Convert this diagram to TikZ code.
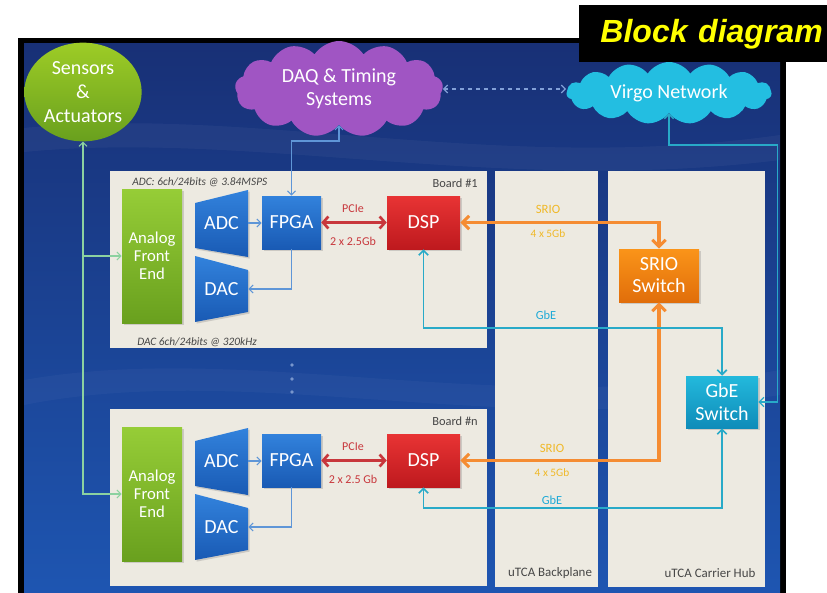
\documentclass[tikz,border=0pt]{standalone}
\usepackage{fontspec}
\setmainfont{Carlito}
\newfontfamily\titlefont{Liberation Sans}
\usetikzlibrary{arrows.meta,shapes.symbols,shapes.geometric,shadows}

\definecolor{navy}{RGB}{24,48,118}
\definecolor{midblue}{RGB}{40,112,202}
\definecolor{botblue}{RGB}{30,86,178}
\definecolor{boardbg}{RGB}{237,234,225}
\definecolor{afegreenL}{RGB}{150,205,55}
\definecolor{afegreenD}{RGB}{105,160,30}
\definecolor{chipblue}{RGB}{50,130,220}
\definecolor{chipblueD}{RGB}{25,90,180}
\definecolor{dspred}{RGB}{232,52,52}
\definecolor{dspredD}{RGB}{190,25,30}
\definecolor{srioorange}{RGB}{250,148,25}
\definecolor{srioorangeD}{RGB}{225,110,10}
\definecolor{gbecyan}{RGB}{35,185,220}
\definecolor{gbecyanD}{RGB}{15,140,185}
\definecolor{daqpurple}{RGB}{160,85,195}
\definecolor{virgocyan}{RGB}{35,190,225}
\definecolor{sensgreen}{RGB}{140,195,45}
\definecolor{linksteel}{RGB}{95,150,215}
\definecolor{gbeline}{RGB}{40,170,200}
\definecolor{srioline}{RGB}{245,140,50}
\definecolor{pcieline}{RGB}{200,55,60}
\definecolor{sriotext}{RGB}{240,185,40}
\definecolor{gbetext}{RGB}{30,170,215}
\definecolor{labgray}{RGB}{70,70,70}
\definecolor{sensline}{RGB}{140,210,160}
\definecolor{dashline}{RGB}{130,160,215}
\definecolor{dotcol}{RGB}{120,150,205}
\definecolor{titleyellow}{RGB}{255,255,0}

\tikzset{
 chip/.style={rectangle, inner sep=0pt, text=white, font=\fontsize{15}{17}\selectfont,
   drop shadow={opacity=0.3,shadow xshift=1.2pt,shadow yshift=-1.2pt}},
 fpgabox/.style={chip, top color=chipblue, bottom color=chipblueD, minimum width=44.25pt, minimum height=39.75pt},
 dspbox/.style={chip, top color=dspred, bottom color=dspredD, minimum width=54.75pt, minimum height=39.75pt},
 afebox/.style={chip, top color=afegreenL, bottom color=afegreenD, align=center,
   font=\fontsize{12.5}{13.5}\selectfont, minimum width=45pt, minimum height=100.5pt},
 convshape/.style={top color=chipblue, bottom color=chipblueD,
   drop shadow={opacity=0.3,shadow xshift=1.2pt,shadow yshift=-1.2pt}},
 convbox/.style={inner sep=0pt, text=white, font=\fontsize{15}{17}\selectfont},
 boardbox/.style={rectangle, fill=boardbg, inner sep=0pt, minimum width=282.75pt, minimum height=132.75pt},
 colbox/.style={rectangle, fill=boardbg, inner sep=0pt, anchor=north west, minimum height=312pt},
 boardlab/.style={inner sep=0pt, text=labgray, font=\fontsize{9.3}{11}\selectfont},
 speclab/.style={inner sep=0pt, text=labgray, font=\fontsize{8.5}{10}\selectfont\itshape},
 pcielab/.style={inner sep=0pt, text=pcieline, font=\fontsize{9}{11}\selectfont},
 sriolab/.style={inner sep=0pt, text=sriotext, font=\fontsize{9.5}{11}\selectfont},
 gbelab/.style={inner sep=0pt, text=gbetext, font=\fontsize{9.3}{11}\selectfont},
 thinlink/.style={draw=linksteel, line width=0.9pt, >={Straight Barb[length=3pt,width=6pt]}},
 pcielink/.style={draw=pcieline, line width=2pt, >={Straight Barb[length=4pt,width=9pt]}},
 sriolink/.style={draw=srioline, line width=2.3pt, >={Straight Barb[length=5pt,width=10pt]}},
 gbelink/.style={draw=gbeline, line width=1.3pt, >={Straight Barb[length=3.5pt,width=7pt]}},
 senslink/.style={draw=sensline, line width=0.8pt, >={Straight Barb[length=3pt,width=6pt]}},
 dashlink/.style={draw=dashline, line width=0.9pt, dashed, >={Straight Barb[length=3pt,width=6pt]}},
}

\newcommand\drawboard[4]{%
\begin{scope}[shift={(0,#2)}]
 \node[boardbox] (board#1) at (298.5,259.5) {};
 \node[boardlab, anchor=east] (blab#1) at (478,183) {#3};
 \node[afebox] (afe#1) at (152,256) {Analog\\Front\\End};
 \shade[convshape] (195,203)--(248,190)--(248,257)--(195,248)--cycle;
 \node[convbox, minimum width=39.75pt, minimum height=50.25pt] (adc#1) at (221.5,223) {ADC};
 \shade[convshape] (195,256)--(248,270)--(248,312)--(195,322)--cycle;
 \node[convbox, minimum width=39.75pt, minimum height=49.5pt] (dac#1) at (221.5,289) {DAC};
 \node[fpgabox] (fpga#1) at (291.5,222.5) {FPGA};
 \node[dspbox] (dsp#1) at (423.5,222.5) {DSP};
 \draw[thinlink,->] (adc#1.east) -- (adc#1.east -| fpga#1.west);
 \draw[thinlink,->] (fpga#1.south) |- (dac#1.east);
 \draw[pcielink,<->] (fpga#1.east) -- (dsp#1.west);
 \node[pcielab] (pcie#1) at (353,209) {PCIe};
 \node[pcielab] (rate#1) at (353,241) {#4};
\end{scope}}

\begin{document}
\begin{tikzpicture}[x=0.75pt,y=-0.75pt]
\useasboundingbox (0,0) rectangle (827,592);
% frame and background
\fill[black] (18,38) rectangle (786,600);
\shade[top color=navy, middle color=midblue, bottom color=botblue] (24,44) rectangle (780,600);
\fill[white, opacity=0.04] (24,128) .. controls (250,105) and (500,175) .. (780,135) -- (780,160) .. controls (500,195) and (250,130) .. (24,152) -- cycle;
\fill[white, opacity=0.03] (24,380) .. controls (250,340) and (500,420) .. (780,370) -- (780,395) .. controls (500,440) and (250,360) .. (24,405) -- cycle;

% title
\node[fill=black, anchor=north east, minimum height=42.75pt, text width=180pt, align=right,
  inner xsep=3pt, text=titleyellow, font=\titlefont\bfseries\itshape\fontsize{24}{28}\selectfont]
  (title) at (827,5) {Block diagram};

% top entities
\node[ellipse, top color=sensgreen!85!yellow, bottom color=afegreenD, minimum width=88pt, minimum height=74pt,
  inner sep=0pt, align=center, text=white, font=\fontsize{15}{18}\selectfont] (sensors) at (83,92) {Sensors\\\&\\Actuators};
\node[cloud, cloud puffs=13, cloud puff arc=115, cloud ignores aspect, fill=daqpurple, minimum width=156pt, minimum height=72pt,
  inner sep=0pt, align=center, text=white, font=\fontsize{15}{17.25}\selectfont] (daq) at (339,89) {DAQ \& Timing\\Systems};
\node[cloud, cloud puffs=15, cloud puff arc=115, cloud ignores aspect, fill=virgocyan, minimum width=153.75pt, minimum height=46.5pt,
  inner sep=0pt, text=white, font=\fontsize{15}{17}\selectfont] (virgo) at (669,93) {Virgo Network};
\draw[dashlink,<->] (daq.east) -- (daq.east -| virgo.west);

% crate columns
\node[colbox, minimum width=77.25pt] (backplane) at (495,171) {};
\node[colbox, minimum width=117.75pt] (hub) at (608,171) {};
\node[boardlab, font=\fontsize{9.7}{11}\selectfont] (bplab) at (550,573) {uTCA Backplane};
\node[boardlab, font=\fontsize{9.7}{11}\selectfont] (hublab) at (710,573) {uTCA Carrier Hub};

% boards
\drawboard{1}{0}{Board \#1}{2 x 2.5Gb}
\drawboard{n}{238}{Board \#n}{2 x 2.5 Gb}
\node[speclab, anchor=west] (adcspec) at (132,182) {ADC: 6ch/24bits @ 3.84MSPS};
\node[speclab, anchor=west] (dacspec) at (137,342) {DAC 6ch/24bits @ 320kHz};

% dots between boards
\fill[dotcol] (292,365) circle[radius=1.4pt];
\fill[dotcol] (292,379) circle[radius=1.4pt];
\fill[dotcol] (292,392) circle[radius=1.4pt];

% switches
\node[chip, top color=srioorange, bottom color=srioorangeD, minimum width=60pt, minimum height=39.75pt,
  align=center, font=\fontsize{15}{16.5}\selectfont] (srio) at (659,275.5) {SRIO\\Switch};
\node[chip, top color=gbecyan, bottom color=gbecyanD, minimum width=54pt, minimum height=39pt,
  align=center, font=\fontsize{15}{17.5}\selectfont] (gbe) at (722,402) {GbE\\Switch};

% sensors bus
\draw[senslink,<->] (sensors.south) |- (afen.west);
\draw[senslink,->] (sensors.south |- afe1.west) -- (afe1.west);

% DAQ link
\draw[thinlink,<->] (daq.south) -- ++(0,16) -| (fpga1.north);

% SRIO links
\draw[sriolink,<->] (dsp1.east) -| (srio.north);
\draw[sriolink,<->] (dspn.east) -| (srio.south);
\node[sriolab] (srio1a) at (548,209) {SRIO};
\node[sriolab, font=\fontsize{8.5}{10}\selectfont] (srio1b) at (548,234) {4 x 5Gb};
\node[sriolab] (sriona) at (552,448) {SRIO};
\node[sriolab, font=\fontsize{8.5}{10}\selectfont] (srionb) at (552,473) {4 x 5Gb};

% GbE links
\draw[gbelink,<->] (dsp1.south) -- ++(0,79) -| (gbe.north);
\draw[gbelink,<->] (dspn.south) -- ++(0,21) -| (gbe.south);
\node[gbelab] (gbe1lab) at (546,315) {GbE};
\node[gbelab] (gbenlab) at (552,500) {GbE};
\draw[gbelink, line width=1pt, <->] (gbe.east) -- ++(19,0) -- ++(0,-257) -| (virgo.south);
\end{tikzpicture}
\end{document}
